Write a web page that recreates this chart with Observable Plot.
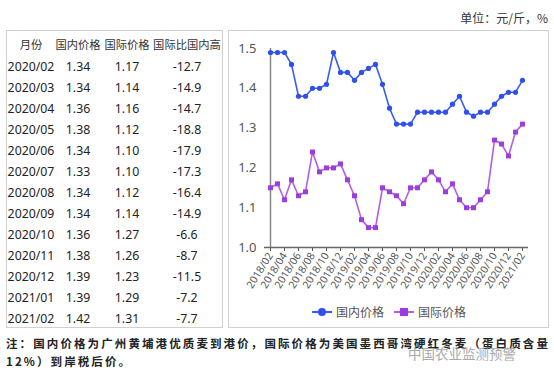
<!DOCTYPE html>
<html>
<head>
<meta charset="utf-8">
<script src="https://cdn.jsdelivr.net/npm/d3@7"></script>
<script src="https://cdn.jsdelivr.net/npm/@observablehq/plot@0.6"></script>
<style>
  html, body { margin: 0; padding: 0; background: #fff; }
  body { width: 554px; height: 375px; position: relative; overflow: hidden; font-family: "Noto Sans", "Noto Sans CJK SC", sans-serif; }
  .box { position: absolute; border: 1px solid #d0d0d0; box-sizing: border-box; background: #fff; }
  .cell { position: absolute; white-space: nowrap; color: #222; transform: translate(-50%, -50%); }
  .hdr { font-family: "Noto Sans CJK SC", sans-serif; font-size: 11.3px; color: #333; }
  .num { font-size: 12.3px; }
  #unit { position: absolute; right: 6px; top: 9px; font-family: "Noto Sans CJK SC", serif; font-size: 12px; color: #333; }
  #note { position: absolute; left: 6px; top: 334px; font-family: "Noto Sans CJK SC", serif; font-size: 11.5px; font-weight: bold; color: #222; line-height: 18px; letter-spacing: 2.1px; white-space: nowrap; }
  #wm { position: absolute; left: 408px; top: 343px; font-family: "Noto Sans CJK SC", sans-serif; font-size: 13.5px; color: #aaa; }
  .leg { position: absolute; top: 303px; font-family: "Noto Sans CJK SC", sans-serif; font-size: 12px; color: #555; display: flex; align-items: center; }
  .leg .mk { display: inline-block; width: 20px; height: 12px; position: relative; margin-right: 4px; }
  .leg .mk .ln { position: absolute; left: 0; right: 0; top: 5px; border-top: 2px dashed; }
  .leg .mk .pt { position: absolute; left: 6px; top: 2px; width: 8px; height: 8px; }
</style>
</head>
<body>
<div id="unit">单位：元/斤，%</div>
<div class="box" id="tbl" style="left:6px; top:30px; width:217px; height:298px;"></div>
<div class="box" id="chartbox" style="left:228px; top:30px; width:321px; height:298px;"></div>
<div id="chart" style="position:absolute; left:228px; top:30px;"></div>
<div class="leg" style="left:312px;"><span class="mk"><span class="ln" style="border-color:#3a5cf5"></span><span class="pt" style="background:#2f4ff2;border-radius:50%"></span></span>国内价格</div>
<div class="leg" style="left:394px;"><span class="mk"><span class="ln" style="border-color:#b060e6"></span><span class="pt" style="background:#9d3ddf"></span></span>国际价格</div>
<div id="note">注：国内价格为广州黄埔港优质麦到港价，国际价格为美国墨西哥湾硬红冬麦（蛋白质含量<br>12%）到岸税后价。</div>
<div id="wm">中国农业监测预警</div>
<script>
// ---- table data ----
const tableHeaders = ["月份", "国内价格", "国际价格", "国际比国内高"];
const tableMonths = ["2020/02","2020/03","2020/04","2020/05","2020/06","2020/07","2020/08","2020/09","2020/10","2020/11","2020/12","2021/01","2021/02"];
const tableDomestic = ["1.34","1.34","1.36","1.38","1.34","1.33","1.34","1.34","1.36","1.38","1.39","1.39","1.42"];
const tableIntl = ["1.17","1.14","1.16","1.12","1.10","1.10","1.12","1.14","1.27","1.26","1.23","1.29","1.31"];
const tableDiff = ["-12.7","-14.9","-14.7","-18.8","-17.9","-17.3","-16.4","-14.9","-6.6","-8.7","-11.5","-7.2","-7.7"];

// ---- chart data ----
const months = ["2018/02","2018/03","2018/04","2018/05","2018/06","2018/07","2018/08","2018/09","2018/10","2018/11","2018/12",
  "2019/01","2019/02","2019/03","2019/04","2019/05","2019/06","2019/07","2019/08","2019/09","2019/10","2019/11","2019/12",
  "2020/01","2020/02","2020/03","2020/04","2020/05","2020/06","2020/07","2020/08","2020/09","2020/10","2020/11","2020/12",
  "2021/01","2021/02"];
const domestic = [1.49,1.49,1.49,1.46,1.38,1.38,1.40,1.40,1.41,1.49,1.44,
  1.44,1.42,1.44,1.45,1.46,1.41,1.35,1.31,1.31,1.31,1.34,1.34,
  1.34,1.34,1.34,1.36,1.38,1.34,1.33,1.34,1.34,1.36,1.38,1.39,
  1.39,1.42];
const international = [1.15,1.16,1.12,1.17,1.13,1.14,1.24,1.19,1.20,1.20,1.21,
  1.17,1.13,1.07,1.05,1.05,1.15,1.14,1.13,1.11,1.15,1.15,1.17,
  1.19,1.17,1.14,1.16,1.12,1.10,1.10,1.12,1.14,1.27,1.26,1.23,
  1.29,1.31];
const xTicks = months.filter((d, i) => i % 2 === 0);
const yTicks = [1.0, 1.1, 1.2, 1.3, 1.4, 1.5];

// ---- table ----
const tbl = document.getElementById("tbl");
const colX = [24, 71, 120, 180];
function cell(text, x, y, cls) {
  const d = document.createElement("div");
  d.className = "cell " + cls;
  d.textContent = text;
  d.style.left = x + "px";
  d.style.top = y + "px";
  tbl.appendChild(d);
}
tableHeaders.forEach((h, i) => cell(h, colX[i], 13, "hdr"));
tableMonths.forEach((m, r) => {
  const y = 35 + r * 21;
  cell(m, colX[0], y, "num");
  cell(tableDomestic[r], colX[1], y, "num");
  cell(tableIntl[r], colX[2], y, "num");
  cell(tableDiff[r], colX[3], y, "num");
});

// ---- chart ----
const dom = months.map((m, i) => ({month: m, value: domestic[i]}));
const intl = months.map((m, i) => ({month: m, value: international[i]}));
const blue = "#3a5cf5", purple = "#b060e6";
const chart = Plot.plot({
  width: 321,
  height: 272,
  marginLeft: 36,
  marginRight: 21,
  marginTop: 18,
  marginBottom: 55,
  style: {fontFamily: "Noto Sans, sans-serif", background: "transparent", overflow: "visible"},
  x: {type: "point", domain: months, padding: 0},
  y: {domain: [1.0, 1.5]},
  marks: [
    Plot.axisY({ticks: yTicks, tickFormat: d3.format(".1f"), tickSize: 0, tickPadding: 8, fontSize: 13, color: "#555", label: null}),
    Plot.axisX({ticks: xTicks, tickRotate: -58, tickSize: 4, tickPadding: 2, fontSize: 10.5, color: "#555", label: null}),
    Plot.ruleX([months[0]], {y1: 1.0, y2: 1.5, stroke: "#888", strokeWidth: 1.5}),
    Plot.ruleY([1.0], {stroke: "#666", strokeWidth: 1.5}),
    Plot.lineY(dom, {x: "month", y: "value", stroke: blue, strokeWidth: 1.6}),
    Plot.dot(dom, {x: "month", y: "value", r: 2.6, fill: "#2f4ff2", stroke: null}),
    Plot.lineY(intl, {x: "month", y: "value", stroke: purple, strokeWidth: 1.6}),
    Plot.dot(intl, {x: "month", y: "value", symbol: "square", r: 2.8, fill: "#9d3ddf", stroke: null})
  ]
});
document.getElementById("chart").appendChild(chart);
</script>
</body>
</html>
